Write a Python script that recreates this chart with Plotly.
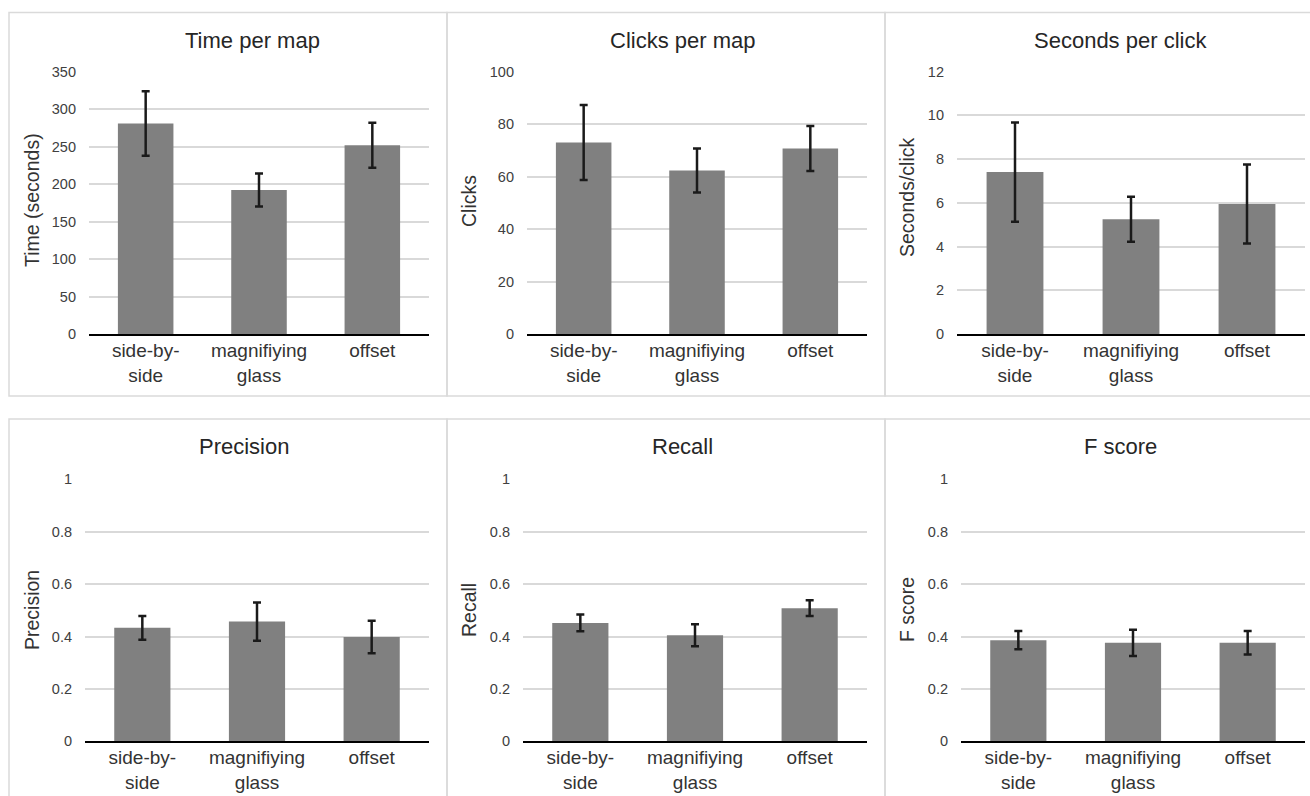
import plotly.graph_objects as go

W, H = 1310, 796

categories = ["side-by-<br>side", "magnifiying<br>glass", "offset"]

time_mean = [281, 192, 252]
time_err = [43, 22, 30]
clicks_mean = [73.0, 62.3, 70.7]
clicks_err = [14.3, 8.4, 8.6]
spc_mean = [7.41, 5.25, 5.95]
spc_err = [2.27, 1.03, 1.81]
prec_mean = [0.433, 0.457, 0.398]
prec_err = [0.045, 0.073, 0.062]
recall_mean = [0.452, 0.405, 0.508]
recall_err = [0.032, 0.042, 0.030]
f_mean = [0.386, 0.376, 0.376]
f_err = [0.035, 0.050, 0.045]

titles = ["Time per map", "Clicks per map", "Seconds per click", "Precision", "Recall", "F score"]
ytitles = ["Time (seconds)", "Clicks", "Seconds/click", "Precision", "Recall", "F score"]
means = [time_mean, clicks_mean, spc_mean, prec_mean, recall_mean, f_mean]
errs = [time_err, clicks_err, spc_err, prec_err, recall_err, f_err]
yranges = [[0, 350], [0, 100], [0, 12], [0, 1], [0, 1], [0, 1]]
dticks = [50, 20, 2, 0.2, 0.2, 0.2]

# layout (pixels)
plot_x = [(89, 429), (527, 867), (957, 1305), (85, 429), (523, 867), (961, 1305)]
plot_y = [(71.7, 334), (71.7, 334), (71.7, 334), (479.3, 741.3), (479.3, 741.3), (479.3, 741.3)]
title_pos = [(252, 40), (682, 40), (1120, 40), (244, 446), (682, 446), (1120, 446)]
ytitle_pos = [(32, 200), (469, 201), (907, 198), (32, 610), (469, 610), (907, 610)]
panels = [(9, 12.5, 447, 396), (447, 12.5, 885, 396), (885, 12.5, 1312, 396),
          (9, 419, 447, 800), (447, 419, 885, 800), (885, 419, 1312, 800)]

def px(x):
    return x / W

def py(y):
    return 1 - y / H

FONT = "Liberation Sans, Arial, sans-serif"
fig = go.Figure()
layout = {}
annotations = []
shapes = []

for i in range(6):
    n = "" if i == 0 else str(i + 1)
    fig.add_trace(go.Bar(
        x=categories, y=means[i],
        xaxis="x" + n, yaxis="y" + n,
        marker=dict(color="#808080", line=dict(width=0)),
        error_y=dict(type="data", array=errs[i], visible=True,
                     color="#1a1a1a", thickness=2.5, width=4),
        showlegend=False, hoverinfo="y",
    ))
    layout["xaxis" + n] = dict(
        domain=[px(plot_x[i][0]), px(plot_x[i][1])],
        anchor="y" + n, showline=True, linecolor="#000000", linewidth=2,
        showgrid=False, zeroline=False, ticks="", automargin=False,
        tickfont=dict(family=FONT, size=19, color="#333333"),
        ticklabelstandoff=-2, fixedrange=True,
    )
    layout["yaxis" + n] = dict(
        domain=[py(plot_y[i][1]), py(plot_y[i][0])],
        anchor="x" + n, range=yranges[i], dtick=dticks[i], tick0=0,
        showgrid=True, gridcolor="#d9d9d9", gridwidth=1.5,
        zeroline=False, showline=False, ticks="", automargin=False,
        tickfont=dict(family=FONT, size=14.5, color="#404040"),
        ticklabelstandoff=12, fixedrange=True,
    )
    annotations.append(dict(
        text=titles[i], x=px(title_pos[i][0]), y=py(title_pos[i][1]),
        xref="paper", yref="paper", xanchor="center", yanchor="middle",
        showarrow=False, font=dict(family=FONT, size=22, color="#262626"),
    ))
    annotations.append(dict(
        text=ytitles[i], x=px(ytitle_pos[i][0]), y=py(ytitle_pos[i][1]),
        xref="paper", yref="paper", xanchor="center", yanchor="middle",
        textangle=-90, showarrow=False, font=dict(family=FONT, size=19.5, color="#333333"),
    ))
    x0, y0, x1, y1 = panels[i]
    shapes.append(dict(
        type="rect", xref="paper", yref="paper",
        x0=px(x0), x1=px(x1), y0=py(y1), y1=py(y0),
        line=dict(color="#dadada", width=1.5), fillcolor="rgba(0,0,0,0)", layer="below",
    ))

fig.update_layout(
    template="none",
    width=W, height=H, autosize=False,
    margin=dict(l=0, r=0, t=0, b=0, pad=0, autoexpand=False),
    paper_bgcolor="white", plot_bgcolor="white",
    bargap=0.51, annotations=annotations, shapes=shapes,
    font=dict(family=FONT), **layout,
)

fig.write_html(
    "out.html",
    config={"displayModeBar": False},
    post_script="document.body.style.margin='0';document.body.style.padding='0';document.body.style.overflow='hidden';",
)
